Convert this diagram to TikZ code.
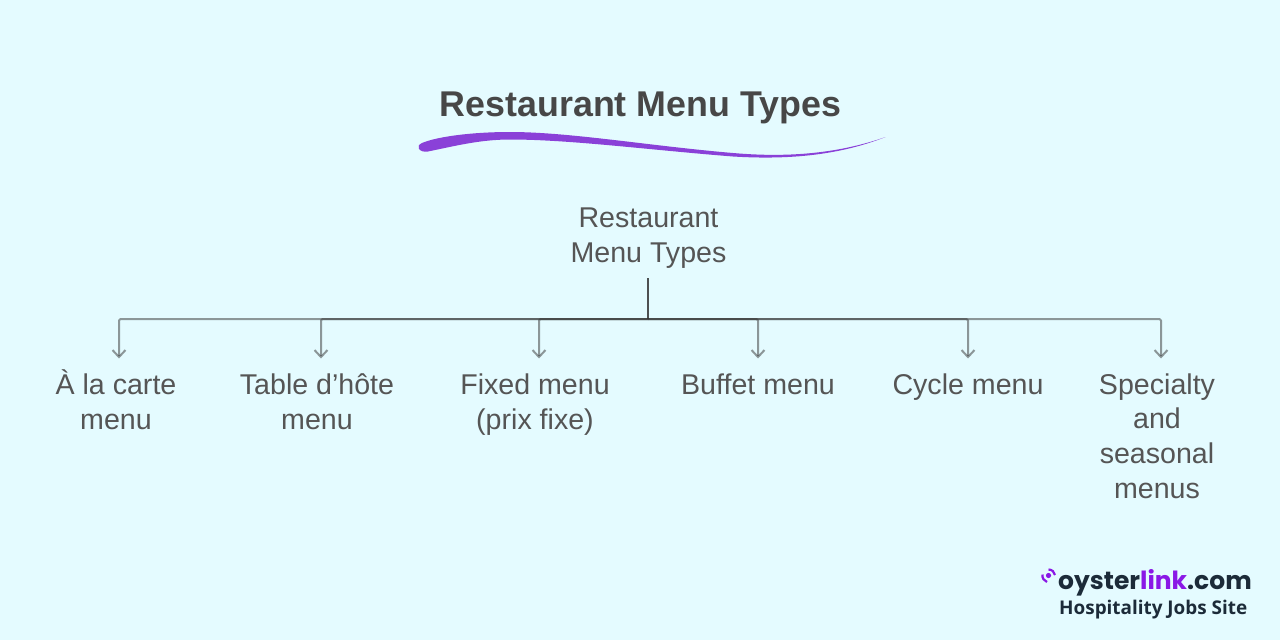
\documentclass[tikz,border=0pt]{standalone}
\usepackage{fontspec}
\setmainfont{Liberation Sans}
\newfontfamily\logofont{Poppins}
\newfontfamily\subfont{Open Sans}
\definecolor{bgc}{HTML}{E4FBFF}
\definecolor{titlec}{HTML}{474747}
\definecolor{textc}{HTML}{555555}
\definecolor{swoosh}{HTML}{8A41D8}
\definecolor{linec}{HTML}{333333}
\definecolor{logodark}{HTML}{1C2B39}
\definecolor{logopurple}{HTML}{8A18E6}
\usetikzlibrary{arrows.meta}
\tikzset{
  x=1pt,y=-1pt,
  labeltxt/.style={font=\fontsize{28.6}{34.6}\selectfont,text=textc,align=center,inner sep=0pt,outer sep=0pt,anchor=base},
  titletxt/.style={font=\fontsize{35.8}{40}\selectfont\bfseries,text=titlec,inner sep=0pt,anchor=base},
  conn/.style={draw=linec,line width=2pt,opacity=.5,line join=round,-{Straight Barb[length=7pt,width=13pt,line width=2pt]}},
  stemline/.style={draw=linec,line width=2.6pt,opacity=.85},
}
\begin{document}
\begin{tikzpicture}
\useasboundingbox (0,0) rectangle (1280,640);
\fill[bgc] (0,0) rectangle (1280,640);
\node[titletxt] (title) at (640.5,116.5) {Restaurant Menu Types};
\fill[swoosh] (422,143)
  .. controls (436,137) and (470,132) .. (510,132)
  .. controls (570,132) and (650,146) .. (733,153)
  .. controls (790,158) and (840,153) .. (885.5,137)
  .. controls (840,155) and (790,160) .. (733,156.5)
  .. controls (650,150) and (570,139.5) .. (510,139.5)
  .. controls (480,139.5) and (455,146) .. (428,151.5)
  .. controls (419,153) and (415,146) .. (422,143) -- cycle;
\node[labeltxt] (root) at (648.5,262) {Restaurant\\Menu Types};
\coordinate (stemtop) at (648,278);
\coordinate (hub) at (648,319);
\node[labeltxt] (a) at (116,429) {À la carte\\menu};
\node[labeltxt] (b) at (317,429) {Table d’hôte\\menu};
\node[labeltxt] (c) at (535,429) {Fixed menu\\(prix fixe)};
\node[labeltxt] (d) at (758,394.5) {Buffet menu};
\node[labeltxt] (e) at (968,394.5) {Cycle menu};
\node[labeltxt] (f) at (1157,498) {Specialty\\and\\seasonal\\menus};
\coordinate (ta) at (119,358.5);
\coordinate (tb) at (321,358.5);
\coordinate (tc) at (539,358.5);
\coordinate (td) at (758,358.5);
\coordinate (te) at (968,358.5);
\coordinate (tf) at (1161,358.5);
\draw[stemline] (stemtop) -- (hub);
\foreach \t in {ta,tb,tc,td,te,tf}{
  \draw[conn,rounded corners=1.5pt] (hub) -| (\t);
}
% logo
\node[inner sep=0pt,anchor=base west,font=\fontsize{25}{25}\selectfont\logofont\bfseries,text=logodark] (logo) at (1058,589) {oyster\textcolor{logopurple}{link}.com};
\node[inner sep=0pt,anchor=base west,font=\fontsize{18.9}{19}\selectfont\subfont\bfseries,text=logodark] (sub) at (1059,614) {Hospitality Jobs Site};
\fill[logopurple] (1048.5,575.5) circle (2.6);
\draw[logopurple,line width=2.2pt] (1042.5,574.5) .. controls (1042,578) and (1044,581) .. (1047,582);
\draw[logopurple,line width=2.2pt] (1048.5,569.5) .. controls (1052,569.5) and (1054.5,572) .. (1055,575);
\end{tikzpicture}
\end{document}
